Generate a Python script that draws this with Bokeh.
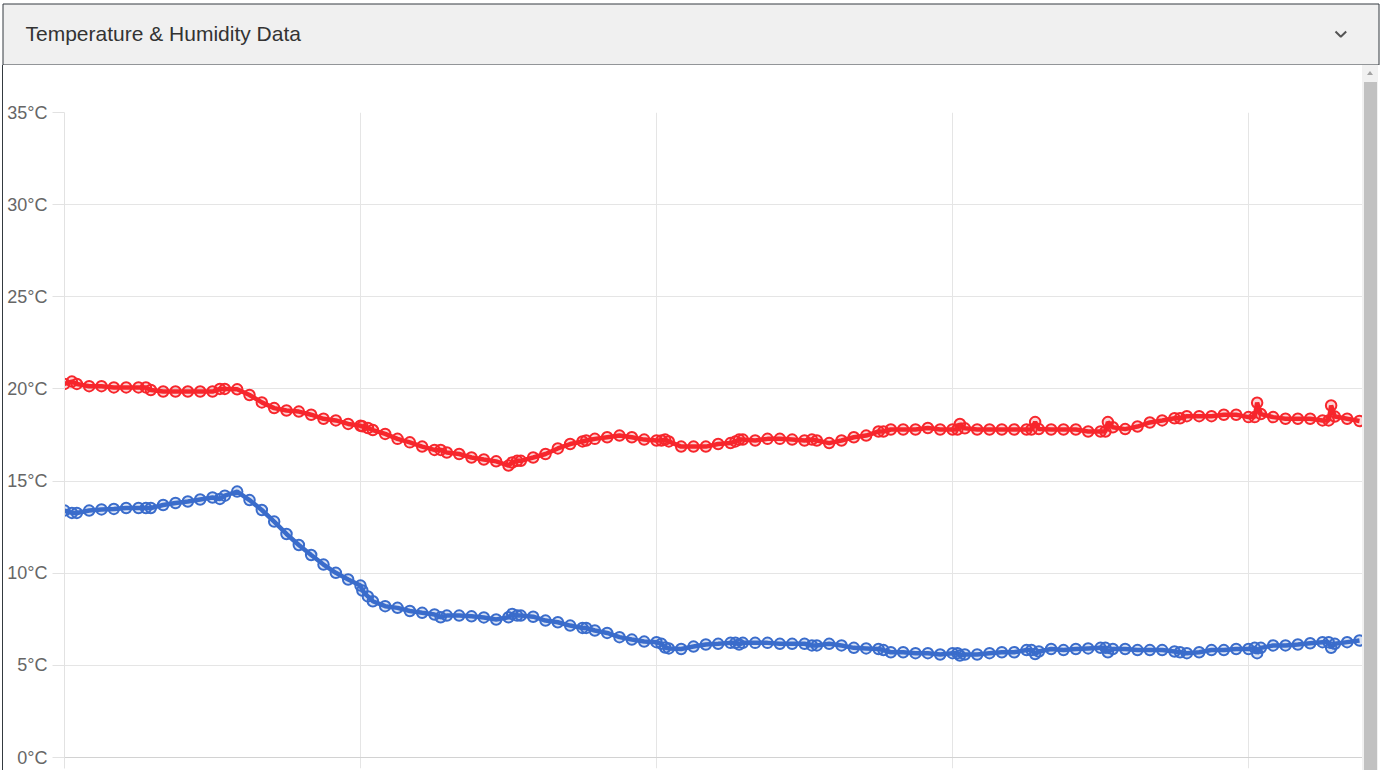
from bokeh.plotting import figure
from bokeh.layouts import column, row
from bokeh.models import Range1d, FixedTicker, ColumnDataSource, Span, Div
from bokeh.core.properties import value
from bokeh.embed import file_html
from bokeh.resources import INLINE

# ---------------- data ----------------
title_text = "Temperature & Humidity Data"

sample_x = [0, 0.6, 1, 2, 3, 4, 5, 6, 6.6, 7, 8, 9, 10, 11, 12, 12.6, 13, 14, 15, 16,
            17, 18, 19, 20, 21, 22, 23, 24, 24.15, 24.6, 25, 26, 27, 28, 29, 30, 30.5, 31, 32, 33,
            34, 35, 36, 36.3, 36.7, 37, 38, 39, 40, 41, 42, 42.3, 43, 44, 45, 46, 47, 48, 48.4, 48.7,
            49, 50, 51, 52, 53, 54, 54.4, 54.7, 55, 56, 57, 58, 59, 60, 60.6, 61, 62, 63, 64, 65,
            66, 66.4, 67, 68, 69, 70, 71, 72, 72.4, 72.6, 73, 74, 75, 76, 77, 78, 78.4, 78.7, 79, 80,
            81, 82, 83, 84, 84.4, 84.6, 85, 86, 87, 88, 89, 90, 90.45, 91, 92, 93, 94, 95, 96, 96.5,
            96.7, 97, 98, 99, 100, 101, 102, 102.5, 102.7, 103, 104, 105]

temperature = [20.27, 20.4, 20.27, 20.15, 20.15, 20.08, 20.08, 20.08, 20.08, 19.94, 19.86, 19.86, 19.86, 19.86, 19.86, 20.0, 20.0, 19.98, 19.67, 19.27,
               18.96, 18.83, 18.77, 18.6, 18.38, 18.29, 18.1, 18.0, 17.97, 17.88, 17.77, 17.56, 17.29, 17.1, 16.87, 16.69, 16.69, 16.55, 16.47, 16.28,
               16.17, 16.07, 15.84, 16.01, 16.1, 16.1, 16.28, 16.47, 16.77, 17.01, 17.15, 17.2, 17.29, 17.38, 17.47, 17.38, 17.25, 17.2, 17.2, 17.25,
               17.15, 16.87, 16.87, 16.87, 17.01, 17.06, 17.15, 17.25, 17.25, 17.2, 17.29, 17.29, 17.25, 17.2, 17.25, 17.2, 17.06, 17.2, 17.38, 17.47,
               17.69, 17.69, 17.8, 17.8, 17.8, 17.88, 17.8, 17.8, 17.8, 18.1, 17.86, 17.8, 17.8, 17.8, 17.8, 17.8, 17.8, 18.2, 17.82, 17.8,
               17.8, 17.8, 17.69, 17.69, 17.69, 18.2, 17.92, 17.82, 17.96, 18.18, 18.29, 18.41, 18.41, 18.52, 18.52, 18.52, 18.6, 18.6, 18.47, 18.47,
               19.25, 18.64, 18.47, 18.38, 18.38, 18.38, 18.29, 18.29, 19.1, 18.5, 18.38, 18.26]

dew_point = [13.4, 13.27, 13.27, 13.4, 13.46, 13.49, 13.54, 13.54, 13.54, 13.54, 13.7, 13.81, 13.89, 14.0, 14.11, 14.03, 14.21, 14.43, 13.97, 13.43,
             12.8, 12.13, 11.53, 10.99, 10.47, 10.02, 9.66, 9.33, 9.06, 8.74, 8.48, 8.21, 8.12, 7.95, 7.85, 7.76, 7.61, 7.7, 7.7, 7.66,
             7.6, 7.49, 7.61, 7.79, 7.7, 7.7, 7.64, 7.43, 7.34, 7.16, 7.03, 7.03, 6.89, 6.76, 6.53, 6.4, 6.29, 6.26, 6.17, 5.97,
             5.92, 5.89, 6.02, 6.13, 6.17, 6.22, 6.22, 6.13, 6.22, 6.22, 6.22, 6.17, 6.17, 6.17, 6.08, 6.08, 6.17, 6.08, 5.95, 5.92,
             5.89, 5.83, 5.71, 5.71, 5.66, 5.66, 5.59, 5.66, 5.66, 5.53, 5.59, 5.59, 5.66, 5.71, 5.71, 5.83, 5.83, 5.61, 5.75, 5.89,
             5.83, 5.89, 5.92, 5.95, 5.95, 5.71, 5.89, 5.89, 5.83, 5.83, 5.83, 5.75, 5.71, 5.66, 5.71, 5.83, 5.83, 5.89, 5.89, 5.95,
             5.66, 5.95, 6.08, 6.08, 6.13, 6.2, 6.26, 6.26, 5.95, 6.17, 6.26, 6.35]

y_ticks = [0, 5, 10, 15, 20, 25, 30, 35]
y_tick_labels = {t: f"{t}°C" for t in y_ticks}
x_grid_ticks = [0, 24, 48, 72, 96]

RED = "#f7262c"
BLUE = "#3a6ccb"
FONT = "Liberation Sans"
BORDER = "#343a40"

# ---------------- geometry (page pixels) ----------------
PAGE_W = 1380
HEADER_H = 65
CHART_H = 705
LEFT_W = 4
SCROLL_X0 = 1362
CHART_W = SCROLL_X0 - LEFT_W
SCROLL_W = PAGE_W - SCROLL_X0

# ---------------- header ----------------
header = figure(width=PAGE_W, height=HEADER_H, x_range=Range1d(0, PAGE_W), y_range=Range1d(HEADER_H, 0),
                output_backend="svg", toolbar_location=None, min_border=0,
                background_fill_color="white", border_fill_color="white", outline_line_color=None)
header.axis.visible = False
header.grid.visible = False
header.quad(left=[2.5], right=[1378.5], top=[3.5], bottom=[64.5], fill_color="#f0f0f0",
            line_color=BORDER, line_width=1)
header.text(x=[25], y=[32.7], text=[title_text], text_font=value(FONT),
            text_font_size="21px", text_color="#333333",
            text_baseline="alphabetic", text_align="left")
header.line(x=[1335, 1340.3, 1345.7], y=[31, 36.3, 31], line_color="#555555", line_width=2)

# ---------------- left panel border (plain HTML block) ----------------
left = Div(width=LEFT_W, height=CHART_H, margin=0,
           text=(f'<div style="position:relative;width:{LEFT_W}px;height:{CHART_H}px;background:#ffffff;">'
                 f'<div style="position:absolute;left:2px;top:0;width:1px;height:{CHART_H}px;background:{BORDER};"></div>'
                 '</div>'))

# ---------------- chart ----------------
src = ColumnDataSource(dict(x=sample_x, t=temperature, d=dew_point))

px_per_deg = 645 / 35.0
p = figure(width=CHART_W, height=CHART_H,
           x_range=Range1d(0, (1362 - 64) / (296 / 24)), y_range=Range1d(-11 / px_per_deg, 35),
           output_backend="svg", toolbar_location=None,
           min_border_left=64 - LEFT_W, min_border_right=0, min_border_top=112 - HEADER_H,
           min_border_bottom=HEADER_H + CHART_H - 768,
           outline_line_color=None, background_fill_color="white", border_fill_color="white")

p.xaxis.visible = False
p.yaxis.ticker = FixedTicker(ticks=y_ticks)
p.yaxis.major_label_overrides = y_tick_labels
p.yaxis.major_label_text_font = FONT
p.yaxis.major_label_text_font_size = "18px"
p.yaxis.major_label_text_color = "#666666"
p.yaxis.major_label_standoff = 5
p.yaxis.major_tick_out = 12
p.yaxis.major_tick_in = 0
p.yaxis.minor_tick_line_color = None
p.yaxis.major_tick_line_color = "#e2e2e2"
p.yaxis.axis_line_color = "#e2e2e2"

p.xgrid.ticker = FixedTicker(ticks=x_grid_ticks)
p.ygrid.ticker = FixedTicker(ticks=y_ticks)
p.grid.grid_line_color = "#e5e5e5"
p.grid.grid_line_width = 1
p.add_layout(Span(location=0, dimension="width", line_color="#d2d2d2", line_width=1))

p.line("x", "t", source=src, line_color=RED, line_width=4.5)
p.scatter("x", "t", source=src, marker="circle", size=10.5, line_color=RED, line_width=2,
          fill_color=RED, fill_alpha=0.2)
p.line("x", "d", source=src, line_color=BLUE, line_width=4.5)
p.scatter("x", "d", source=src, marker="circle", size=10.5, line_color=BLUE, line_width=2,
          fill_color=BLUE, fill_alpha=0.2)

# ---------------- scrollbar (plain HTML block) ----------------
sb = Div(width=SCROLL_W, height=CHART_H, margin=0,
         text=(f'<div style="position:relative;width:{SCROLL_W}px;height:{CHART_H}px;background:#ffffff;overflow:hidden;">'
               f'<div style="position:absolute;left:0;top:0;width:16px;height:{CHART_H}px;background:#f1f1f1;"></div>'
               f'<div style="position:absolute;left:2px;top:17px;width:12.7px;height:{CHART_H}px;background:#c1c1c1;"></div>'
               '<div style="position:absolute;left:4.7px;top:6px;width:0;height:0;'
               'border-left:3.7px solid transparent;border-right:3.7px solid transparent;'
               'border-bottom:4px solid #a3a3a3;"></div>'
               '</div>'))

layout = column(header, row(left, p, sb))

open("out.html", "w").write(file_html(layout, INLINE))
